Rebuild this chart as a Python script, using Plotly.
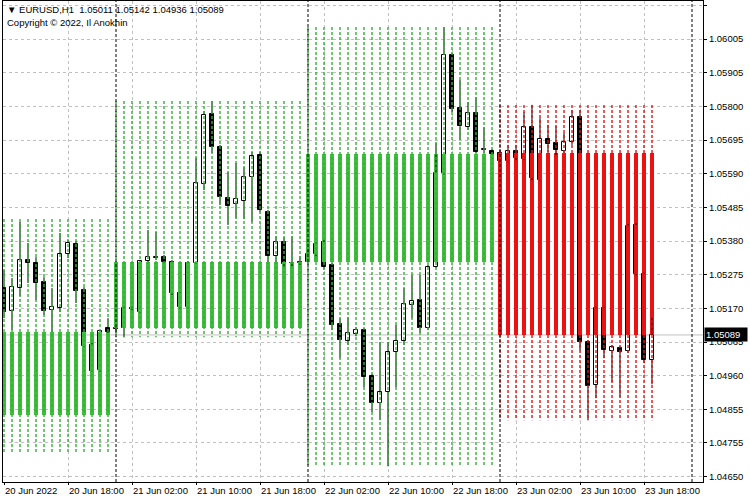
import pandas as pd
import plotly.graph_objects as go

# ---------------- data (EURUSD H1) ----------------
start_time = "2022-06-20 10:00"
n_bars = 82

opens = [1.05234, 1.05163, 1.05234, 1.05321, 1.05312, 1.05253, 1.05166, 1.05172, 1.05340, 1.05371,
         1.05228, 1.05058, 1.04980, 1.05110,
         1.05110, 1.05110, 1.05172, 1.05160, 1.05318, 1.05327, 1.05330, 1.05315, 1.05219, 1.05175,
         1.05312, 1.05557, 1.05774, 1.05671, 1.05513, 1.05495, 1.05504, 1.05578, 1.05647, 1.05470,
         1.05333, 1.05377, 1.05312, 1.05312,
         1.05315, 1.05340, 1.05377, 1.05306, 1.05123, 1.05070, 1.05092, 1.05104, 1.04961, 1.04878,
         1.04912, 1.05036, 1.05070, 1.05182, 1.05197, 1.05110, 1.05299, 1.05591, 1.05957, 1.05792,
         1.05733, 1.05777, 1.05662, 1.05659,
         1.05653, 1.05628, 1.05659, 1.05634, 1.05733, 1.05569, 1.05696, 1.05684, 1.05659, 1.05687,
         1.05764, 1.05067, 1.04934, 1.05172, 1.05039, 1.05048, 1.05039, 1.05430, 1.05278, 1.05011]
highs = [1.05290, 1.05265, 1.05439, 1.05374, 1.05330, 1.05268, 1.05234, 1.05405, 1.05383, 1.05380,
         1.05237, 1.05064, 1.05104, 1.05141,
         1.05116, 1.05178, 1.05178, 1.05321, 1.05414, 1.05408, 1.05337, 1.05321, 1.05222, 1.05318,
         1.05637, 1.05783, 1.05814, 1.05678, 1.05594, 1.05622, 1.05609, 1.05656, 1.05656, 1.05476,
         1.05395, 1.05392, 1.05395, 1.05333,
         1.05352, 1.05377, 1.05383, 1.05312, 1.05141, 1.05144, 1.05113, 1.05110, 1.04968, 1.05067,
         1.05067, 1.05120, 1.05234, 1.05275, 1.05275, 1.05306, 1.05684, 1.06043, 1.05963, 1.05879,
         1.05811, 1.05826, 1.05733, 1.05665,
         1.05662, 1.05678, 1.05678, 1.05780, 1.05802, 1.05761, 1.05740, 1.05736, 1.05715, 1.05786,
         1.05786, 1.05073, 1.05178, 1.05178, 1.05058, 1.05054, 1.05433, 1.05436, 1.05284, 1.05142]
lows = [1.05141, 1.05104, 1.05209, 1.05250, 1.05197, 1.05151, 1.05098, 1.05160, 1.05327, 1.05188,
        1.05051, 1.04974, 1.04974, 1.05095,
        1.05095, 1.05082, 1.05166, 1.05157, 1.05315, 1.05321, 1.05312, 1.05213, 1.05169, 1.05172,
        1.05309, 1.05538, 1.05653, 1.05492, 1.05430, 1.05451, 1.05448, 1.05439, 1.05470, 1.05315,
        1.05315, 1.05299, 1.05302, 1.05306,
        1.05309, 1.05333, 1.05293, 1.05104, 1.05017, 1.05058, 1.05085, 1.04927, 1.04850, 1.04825,
        1.04682, 1.04927, 1.05058, 1.05141, 1.05095, 1.05104, 1.05296, 1.05585, 1.05780, 1.05693,
        1.05724, 1.05653, 1.05653, 1.05647,
        1.05622, 1.05625, 1.05631, 1.05631, 1.05569, 1.05566, 1.05656, 1.05647, 1.05653, 1.05678,
        1.05042, 1.04825, 1.04893, 1.05017, 1.04943, 1.04896, 1.05033, 1.05271, 1.05002, 1.04936]
closes = [1.05160, 1.05237, 1.05321, 1.05312, 1.05250, 1.05163, 1.05175, 1.05340, 1.05374, 1.05225,
          1.05054, 1.04977, 1.05101, 1.05098,
          1.05107, 1.05172, 1.05170, 1.05318, 1.05330, 1.05330, 1.05315, 1.05219, 1.05175, 1.05312,
          1.05560, 1.05771, 1.05671, 1.05516, 1.05488, 1.05510, 1.05578, 1.05643, 1.05476, 1.05333,
          1.05377, 1.05309, 1.05311, 1.05315,
          1.05340, 1.05371, 1.05299, 1.05120, 1.05073, 1.05095, 1.05104, 1.04958, 1.04878, 1.04912,
          1.05036, 1.05070, 1.05185, 1.05194, 1.05110, 1.05299, 1.05591, 1.05957, 1.05789, 1.05736,
          1.05777, 1.05656, 1.05665, 1.05650,
          1.05628, 1.05659, 1.05637, 1.05733, 1.05575, 1.05696, 1.05681, 1.05662, 1.05687, 1.05764,
          1.05067, 1.04930, 1.05172, 1.05042, 1.05051, 1.05036, 1.05426, 1.05278, 1.05011, 1.05089]

# daily candles drawn by the indicator (20..23 Jun)
day_dates = ["2022-06-20", "2022-06-21", "2022-06-22", "2022-06-23"]
day_open = [1.04840, 1.05110, 1.05315, 1.05653]
day_high = [1.05448, 1.05814, 1.06043, 1.05802]
day_low = [1.04723, 1.05082, 1.04682, 1.04825]
day_close = [1.05098, 1.05315, 1.05650, 1.05089]

separator_dates = ["2022-06-21", "2022-06-22", "2022-06-23", "2022-06-24"]

x_tick_labels = ["20 Jun 2022", "20 Jun 18:00", "21 Jun 02:00", "21 Jun 10:00", "21 Jun 18:00",
                 "22 Jun 02:00", "22 Jun 10:00", "22 Jun 18:00", "23 Jun 02:00", "23 Jun 10:00",
                 "23 Jun 18:00"]
y_tick_labels = ["1.04650", "1.04755", "1.04855", "1.04960", "1.05065", "1.05170", "1.05275",
                 "1.05380", "1.05485", "1.05590", "1.05695", "1.05800", "1.05905", "1.06005",
                 "1.06110"]

symbol_text = "EURUSD,H1"
copyright_text = "Copyright © 2022, Il Anokhin"
last_price = 1.05089
last_price_label = "1.05089"

# ---------------- styling ----------------
GREEN = "rgb(60,192,60)"
RED = "rgb(238,17,17)"
DOT_GREEN = "rgb(50,175,50)"
DOT_RED = "rgb(225,20,20)"
GRID = "#C0C0C0"
FONT = "Liberation Sans, Arial, sans-serif"
FS = 9.5
HOUR = 3600000.0

times = pd.date_range(start_time, periods=n_bars, freq="h")
day_key = [t.strftime("%Y-%m-%d") for t in times]
day_idx = {d: k for k, d in enumerate(day_dates)}

fig = go.Figure()

# candle bodies
body_base, body_h, body_fill = [], [], []
for o, c in zip(opens, closes):
    lo, hi = min(o, c), max(o, c)
    body_base.append(lo)
    body_h.append(max(hi - lo, 0.000015))
    body_fill.append("white" if c >= o else "black")
fig.add_trace(go.Bar(x=times, y=body_h, base=body_base, width=0.56 * HOUR,
                     marker=dict(color=body_fill, line=dict(color="black", width=1)),
                     hoverinfo="skip", showlegend=False))

# indicator: solid day body per hourly bar
sb_base, sb_h, sb_col = [], [], []
for d in day_key:
    k = day_idx[d]
    o, c = day_open[k], day_close[k]
    sb_base.append(min(o, c))
    sb_h.append(abs(c - o))
    sb_col.append(GREEN if c >= o else RED)
fig.add_trace(go.Bar(x=times, y=sb_h, base=sb_base, width=0.58 * HOUR,
                     marker=dict(color=sb_col, line=dict(width=0)),
                     hoverinfo="skip", showlegend=False))

# wicks (split so they never cross hollow bodies)
wx, wy = [], []
for t, o, h, l, c in zip(times, opens, highs, lows, closes):
    top, bot = max(o, c), min(o, c)
    if h > top:
        wx += [t, t, None]
        wy += [h, top, None]
    if l < bot:
        wx += [t, t, None]
        wy += [bot, l, None]
fig.add_trace(go.Scatter(x=wx, y=wy, mode="lines", line=dict(color="black", width=1),
                         hoverinfo="skip", showlegend=False))

# indicator: dotted high-low line per hourly bar
for bull, col in ((True, DOT_GREEN), (False, DOT_RED)):
    dx, dy = [], []
    for t, d in zip(times, day_key):
        k = day_idx[d]
        if (day_close[k] >= day_open[k]) != bull:
            continue
        dx += [t, t, None]
        dy += [day_high[k], day_low[k], None]
    fig.add_trace(go.Scatter(x=dx, y=dy, mode="lines",
                             line=dict(color=col, width=1.4, dash="3px,2px"),
                             hoverinfo="skip", showlegend=False))

# period separators
for d in separator_dates:
    fig.add_shape(type="line", xref="x", yref="paper", x0=d, x1=d, y0=0, y1=1,
                  line=dict(color="black", width=1, dash="3px,2px"), layer="above")

# bid line
fig.add_shape(type="line", xref="paper", yref="y", x0=0, x1=1, y0=last_price, y1=last_price,
              line=dict(color=GRID, width=1), layer="between")

y_lo_label, y_hi_label = float(y_tick_labels[0]), float(y_tick_labels[-1])
n_int = len(y_tick_labels) - 1
step = (y_hi_label - y_lo_label) / n_int
y_tickvals = [y_lo_label + k * step for k in range(len(y_tick_labels))]

x0 = times[0] - pd.Timedelta(hours=0.125)
x1 = x0 + pd.Timedelta(hours=87.5)

fig.update_layout(
    width=750, height=500,
    margin=dict(l=3, r=47, t=1, b=18),
    paper_bgcolor="white", plot_bgcolor="white",
    barmode="overlay", bargap=0,
    font=dict(family=FONT, size=FS, color="black"),
    showlegend=False,
    xaxis=dict(type="date", range=[x0, x1], tickvals=list(times[::8]), ticktext=x_tick_labels,
               ticklabelposition="outside right", ticks="outside", ticklen=2, tickcolor="black",
               showgrid=True, gridcolor=GRID, griddash="3px,3px", gridwidth=1,
               showline=True, linecolor="black", linewidth=1, mirror=True, zeroline=False,
               tickfont=dict(family=FONT, size=FS, color="black"), fixedrange=True),
    yaxis=dict(side="right", range=[y_lo_label - 5.4 * step / 33.65, y_lo_label + 475.6 * step / 33.65],
               tickvals=y_tickvals, ticktext=y_tick_labels, ticks="outside", ticklen=3,
               tickcolor="black", showgrid=True, gridcolor=GRID, griddash="3px,3px", gridwidth=1,
               showline=True, linecolor="black", linewidth=1, mirror=True, zeroline=False,
               tickfont=dict(family=FONT, size=FS, color="black"), fixedrange=True),
)

header = "\u25bc\u00a0" + symbol_text + "\u00a0\u00a0" + "\u00a0".join(
    f"{v:.5f}" for v in (opens[-1], highs[-1], lows[-1], closes[-1]))
fig.add_annotation(text=header, xref="paper", yref="paper", x=0.003, y=0.983,
                   xanchor="left", yanchor="middle", showarrow=False,
                   font=dict(family=FONT, size=FS, color="black"))
fig.add_annotation(text=copyright_text, xref="paper", yref="paper", x=0.003, y=0.955,
                   xanchor="left", yanchor="middle", showarrow=False,
                   font=dict(family=FONT, size=FS, color="black"))
fig.add_annotation(text=last_price_label, xref="paper", yref="y", x=1, y=last_price,
                   xanchor="left", yanchor="middle", showarrow=False, xshift=1,
                   bgcolor="black", width=40, height=11, align="left", borderpad=1,
                   font=dict(family=FONT, size=FS, color="white"))

fig.write_html("out.html", config={"displayModeBar": False},
               post_script="document.body.style.margin='0px';document.body.style.overflow='hidden';")
